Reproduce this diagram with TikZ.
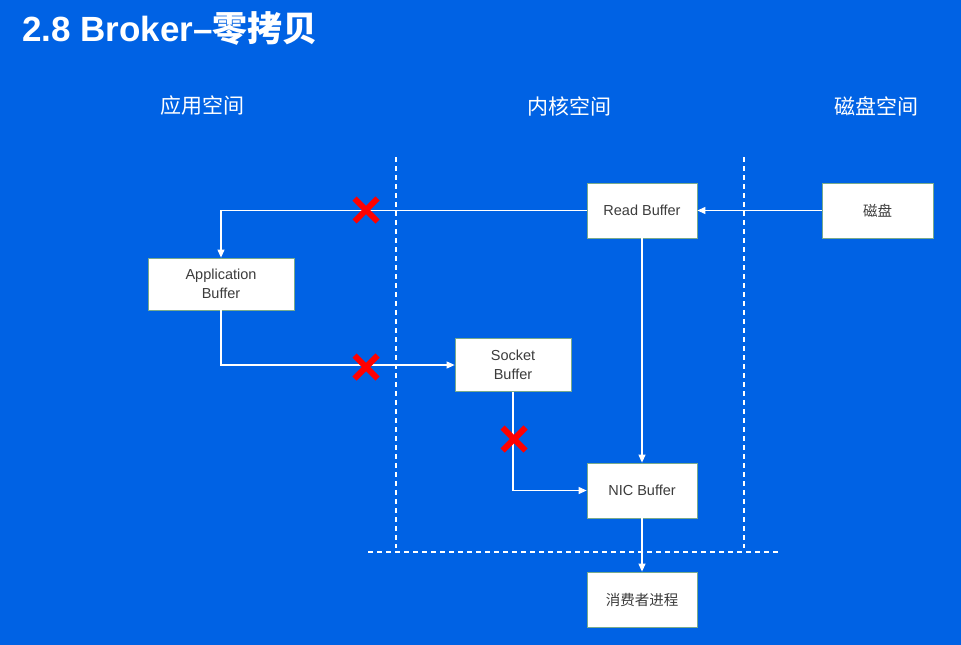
\documentclass[tikz,border=0pt]{standalone}
\usepackage{fontspec}
\setmainfont{Liberation Sans}
\newfontfamily\cjk{Noto Sans CJK SC}
\usetikzlibrary{arrows.meta,shapes.misc}
\definecolor{slideblue}{RGB}{0,98,228}
\definecolor{boxedge}{RGB}{120,170,140}
\definecolor{boxtext}{RGB}{60,60,60}

\begin{document}
\begin{tikzpicture}[x=1pt, y=-1pt,
    buf/.style={rectangle, draw=boxedge, fill=white, thick,
        minimum width=110pt, minimum height=55pt, align=center,
        font=\fontsize{14.5}{19}\selectfont, text=boxtext, inner sep=2pt},
    head/.style={text=white, font=\cjk\fontsize{21}{24}\selectfont},
    arr/.style={-{Triangle[length=8pt,width=7pt]}, white, line width=1.1pt},
    sep/.style={white, dash pattern=on 5pt off 4pt, line width=1.2pt},
    nocopy/.style={cross out, draw=red, line width=6pt,
        minimum size=17pt, inner sep=0pt}
]
    \fill[slideblue] (0,0) rectangle (961,645);

    \node[anchor=west, text=white, inner sep=0pt,
        font=\fontsize{35}{40}\selectfont\bfseries]
        (title) at (22,28) {2.8 Broker–{\cjk 零拷贝}};

    \node[head] (userspace) at (202,106) {应用空间};
    \node[head] (kernelspace) at (569,106) {内核空间};
    \node[head] (diskspace) at (876,106) {磁盘空间};

    % separators
    \draw[sep] (396,157) -- (396,548);
    \draw[sep] (744,157) -- (744,548);
    \draw[sep] (368,552) -- (780,552);

    \node[buf] (read) at (642,210.5) {Read Buffer};
    \node[buf, minimum width=111pt] (disk) at (877.5,210.5) {\cjk 磁盘};
    \node[buf, minimum width=146pt, minimum height=52pt] (app) at (221,284) {Application\\Buffer};
    \node[buf, minimum width=116pt, minimum height=53pt] (sock) at (513,365) {Socket\\Buffer};
    \node[buf] (nic) at (642,490.5) {NIC Buffer};
    \node[buf] (cons) at (642,599.5) {\cjk 消费者进程};

    \draw[arr] (disk) -- (read);
    \draw[arr] (read.west) -| (app.north);
    \draw[arr] (app.south) |- (sock.west);
    \draw[arr] (sock.south) |- (nic.west);
    \draw[arr] (read) -- (nic);
    \draw[arr] (nic) -- (cons);

    % copies that are skipped
    \node[nocopy] (skip1) at (366,210) {};
    \node[nocopy] (skip2) at (366,367) {};
    \node[nocopy] (skip3) at (514,439) {};
\end{tikzpicture}
\end{document}
